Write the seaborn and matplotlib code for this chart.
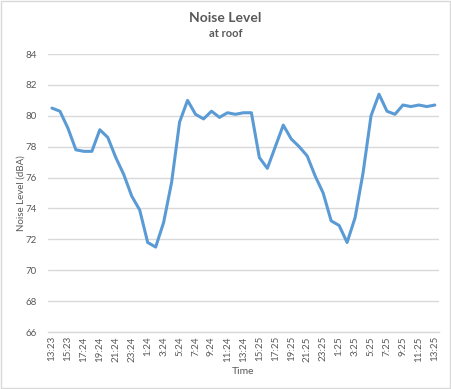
import numpy as np
import pandas as pd
import matplotlib
matplotlib.use("Agg")
import matplotlib.pyplot as plt
import seaborn as sns

# Dados (leituras horárias)
noise_db = [80.5, 80.3, 79.2, 77.8, 77.7, 77.7, 79.1, 78.6, 77.3, 76.2,
            74.8, 73.9, 71.8, 71.5, 73.1, 75.7, 79.6, 81.0, 80.1, 79.8,
            80.3, 79.9, 80.2, 80.1, 80.2, 80.2, 77.3, 76.6, 78.0, 79.4,
            78.5, 78.0, 77.4, 76.1, 75.0, 73.2, 72.9, 71.8, 73.4, 76.3,
            80.0, 81.4, 80.3, 80.1, 80.7, 80.6, 80.7, 80.6, 80.7]
tick_labels = ["13:23", "15:23", "17:24", "19:24", "21:24", "23:24", "1:24",
               "3:24", "5:24", "7:24", "9:24", "11:24", "13:24", "15:25",
               "17:25", "19:25", "21:25", "23:25", "1:25", "3:25", "5:25",
               "7:25", "9:25", "11:25", "13:25"]
y_ticks = [66, 68, 70, 72, 74, 76, 78, 80, 82, 84]

df = pd.DataFrame({"pos": np.arange(len(noise_db)), "noise": noise_db})

sns.set_style("white")
plt.rcParams["font.family"] = ["Lato", "DejaVu Sans"]

grey = "#595959"
fig = plt.figure(figsize=(4.51, 3.89), dpi=100)
ax = fig.add_axes([0.1064, 0.1465, 0.8666, 0.7145])

sns.lineplot(data=df, x="pos", y="noise", ax=ax, color="#5b9bd5", linewidth=2.2)

ax.set_xlim(-0.5, len(noise_db) - 0.5)
ax.set_ylim(y_ticks[0], y_ticks[-1])
ax.set_yticks(y_ticks)
ax.set_yticklabels([str(v) for v in y_ticks], fontsize=7, color=grey)
ax.set_xticks(np.arange(0, len(noise_db), 2))
ax.set_xticklabels(tick_labels, rotation=90, fontsize=7, color=grey)
ax.tick_params(axis="x", length=0, pad=3)
ax.tick_params(axis="y", length=0, pad=8)

ax.grid(axis="y", color="#d9d9d9", linewidth=1)
ax.set_axisbelow(True)
for side in ["top", "right", "left"]:
    ax.spines[side].set_visible(False)
ax.spines["bottom"].set_color("#d9d9d9")
ax.spines["bottom"].set_linewidth(1)

ax.set_xlabel("Time", fontsize=7.5, color=grey, labelpad=4)
ax.set_ylabel("Noise Level (dBA)", fontsize=7, color=grey)
ax.yaxis.set_label_coords(-0.058, 0.5)

fig.text(0.5, 0.955, "Noise Level", ha="center", va="center",
         fontsize=10, fontweight="bold", color=grey)
fig.text(0.5, 0.913, "at roof", ha="center", va="center",
         fontsize=8, fontweight="bold", color=grey)

# Borda da área do gráfico
fig.patches.append(plt.Rectangle((0.002, 0.002), 0.996, 0.996, transform=fig.transFigure,
                                 fill=False, edgecolor="#d9d9d9", linewidth=1))

fig.savefig("out.png", dpi=100)
